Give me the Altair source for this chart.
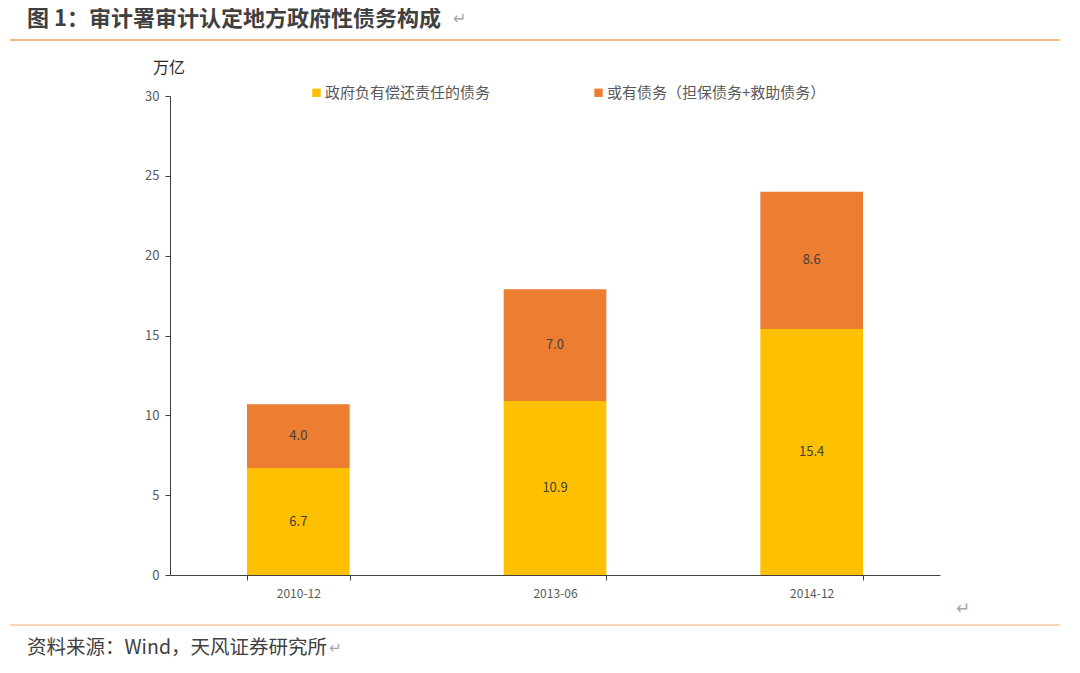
import altair as alt
import pandas as pd

# ---- data ----
dates = ["2010-12", "2013-06", "2014-12"]
series_names = ["政府负有偿还责任的债务", "或有债务（担保债务+救助债务）"]
direct_debt = [6.7, 10.9, 15.4]
contingent_debt = [4.0, 7.0, 8.6]
series_colors = ["#FFC000", "#ED7D31"]
y_ticks = [0, 5, 10, 15, 20, 25, 30]

title_text = ["图 1：审计署审计认定地方政府性债务构成"]
source_text = ["资料来源：Wind，天风证券研究所"]
unit_text = ["万亿"]
return_mark = ["↵"]

rows = []
for i, d in enumerate(dates):
    rows.append({"date": d, "series": series_names[0], "value": direct_debt[i], "order": 0})
    rows.append({"date": d, "series": series_names[1], "value": contingent_debt[i], "order": 1})
df = pd.DataFrame(rows)

FONT = "Noto Sans CJK SC"
W, H = 770, 479

x_enc = alt.X(
    "date:N",
    sort=dates,
    title=None,
    scale=alt.Scale(paddingInner=0.6, paddingOuter=0.3),
    axis=alt.Axis(
        labelAngle=0, tickBand="extent", labelFontSize=12, labelColor="#595959",
        labelFont=FONT, domainColor="#404040", tickColor="#404040", tickSize=5,
        labelPadding=8,
    ),
)

bars = alt.Chart(df).mark_bar().encode(
    x=x_enc,
    y=alt.Y(
        "value:Q",
        stack="zero",
        scale=alt.Scale(domain=[0, 30], nice=False),
        axis=alt.Axis(
            values=y_ticks, grid=False, title=None, labelFontSize=13,
            labelColor="#595959", labelFont=FONT, domainColor="#404040",
            tickColor="#404040", tickSize=5, labelPadding=6,
        ),
    ),
    color=alt.Color(
        "series:N",
        sort=series_names,
        scale=alt.Scale(domain=series_names, range=series_colors),
        legend=alt.Legend(
            title=None, orient="none", direction="horizontal", legendX=139, legendY=-11,
            symbolType="square", symbolSize=70, symbolStrokeWidth=0, labelFontSize=15,
            labelFont=FONT, labelColor="#595959", columnPadding=100, labelOffset=1,
            labelLimit=400,
        ),
    ),
    order=alt.Order("order:Q"),
)

labels = alt.Chart(df).transform_stack(
    stack="value", groupby=["date"], sort=[alt.SortField("order")], as_=["y0", "y1"]
).transform_calculate(mid="(datum.y0 + datum.y1) / 2").mark_text(
    fontSize=13, color="#404040", font=FONT
).encode(
    x=alt.X("date:N", sort=dates),
    y=alt.Y("mid:Q"),
    text=alt.Text("value:Q", format=".1f"),
)

title = alt.Chart(pd.DataFrame({"t": title_text})).mark_text(
    align="left", baseline="middle", fontSize=22, fontWeight="bold", color="#404040", font=FONT
).encode(x=alt.value(-143), y=alt.value(-77), text="t:N")

source = alt.Chart(pd.DataFrame({"t": source_text})).mark_text(
    align="left", baseline="middle", fontSize=19.5, color="#404040", font=FONT
).encode(x=alt.value(-143), y=alt.value(552), text="t:N")

unit = alt.Chart(pd.DataFrame({"t": unit_text})).mark_text(
    align="left", baseline="middle", fontSize=16, color="#262626", font=FONT
).encode(x=alt.value(-17), y=alt.value(-28), text="t:N")

def ret_mark(x, y, size):
    return alt.Chart(pd.DataFrame({"t": return_mark})).mark_text(
        align="left", baseline="middle", fontSize=size, color="#A6A6A6", font="DejaVu Sans"
    ).encode(x=alt.value(x), y=alt.value(y), text="t:N")

ret_title = ret_mark(283, -77, 16)
ret_source = ret_mark(159, 552, 15)
ret_axis = ret_mark(786, 513, 17)

top_rule = alt.Chart(pd.DataFrame({"a": [0]})).mark_rule(color="#F4A460", strokeWidth=1.5).encode(
    x=alt.value(-160), x2=alt.value(908), y=alt.value(-56)
)
bottom_rule = alt.Chart(pd.DataFrame({"a": [0]})).mark_rule(color="#F8C9A0", strokeWidth=1.5).encode(
    x=alt.value(-160), x2=alt.value(908), y=alt.value(529)
)

chart = alt.layer(
    bars, labels, title, source, unit, ret_title, ret_source, ret_axis, top_rule, bottom_rule
).properties(
    width=W, height=H,
    autosize=alt.AutoSizeParams(type="none"),
    padding={"left": 162, "top": 88, "right": 120, "bottom": 90},
).configure(background="white").configure_view(strokeWidth=0)

chart.save("out.html", embed_options={"renderer": "svg", "actions": False})
